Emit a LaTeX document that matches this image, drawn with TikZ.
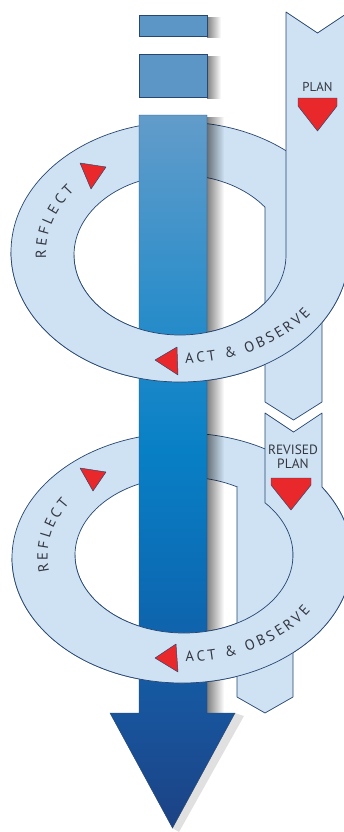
\documentclass[tikz,border=0pt]{standalone}
\usepackage{fontspec}
\setsansfont{PT Sans}
\usetikzlibrary{decorations.text, fadings}

\definecolor{bandblue}{RGB}{206,226,243}
\definecolor{rimblue}{RGB}{40,70,112}
\definecolor{shafttop}{RGB}{98,156,202}
\definecolor{shaftupper}{RGB}{45,142,202}
\definecolor{shaftmid}{RGB}{8,128,198}
\definecolor{shaftdeep}{RGB}{12,105,178}
\definecolor{shaftlow}{RGB}{24,84,156}
\definecolor{shaftend}{RGB}{28,66,132}
\definecolor{blockblue}{RGB}{92,150,198}
\definecolor{markred}{RGB}{232,40,42}
\definecolor{labelgray}{RGB}{52,54,64}

\pgfdeclareverticalshading{shaftshade}{100bp}{color(0bp)=(shaftend); color(25bp)=(shaftend);
  color(33bp)=(shaftlow); color(41bp)=(shaftdeep); color(51.5bp)=(shaftmid);
  color(62bp)=(shaftupper); color(75bp)=(shafttop); color(100bp)=(shafttop)}
\tikzfading[name=shadowfade, left color=transparent!50, right color=transparent!100]

\begin{document}
\begin{tikzpicture}[x=0.03cm, y=-0.03cm,
    band/.style={fill=bandblue},
    rim/.style={draw=rimblue, line width=0.6pt, line join=round},
    pointer/.style={fill=markred, draw=rimblue, line width=0.4pt, line join=round},
    shadow/.style={fill=black, path fading=shadowfade},
    ringtext/.style={decorate, decoration={text along path, text align=fit to path, text color=labelgray}},
    planlabel/.style={font=\sffamily\fontsize{11}{11.5}\selectfont, text=labelgray, align=center, inner sep=0pt}
]
\useasboundingbox (0,0) rectangle (344,832);
\clip (0,0) rectangle (344,832);

% upper loop, back half and the strip leaving it
\path[band, rim, even odd rule] (180,252) ellipse [x radius=169, y radius=130]
    (180,255) ellipse [x radius=106, y radius=80];
\fill[band] (265,207.2) -- (265,402) -- (293.5,420) -- (322,402) -- (322,207.2) -- cycle;
\draw[rim] (265,207.2) -- (265,402) -- (293.5,420) -- (322,402) -- (322,207.2);

% lower loop, back half
\path[band, rim, even odd rule] (182,558) ellipse [x radius=170, y radius=125]
    (184,555) ellipse [x radius=109, y radius=78];
\fill[band] (237,486.9) -- (237,697) -- (265,713) -- (293,697) -- (293,486.9) -- cycle;
\draw[rim] (237,486.9) -- (237,697) -- (265,713) -- (293,697) -- (293,486.9);

% shadows
\fill[shadow] (207,17) rectangle (221,38);
\fill[shadow] (207,56) rectangle (221,99);
\fill[shadow] (207,117) rectangle (224,715);
\fill[black, opacity=0.12] (235,713) -- (244,716) -- (179,832) -- (172.5,828) -- cycle;

% shaft and blocks
\shade[shading=shaftshade, draw=rimblue, line width=0.4pt]
    (139,115) -- (207,115) -- (207,713) -- (235,713) -- (172.5,828) -- (110,713) -- (139,713) -- cycle;
\filldraw[fill=blockblue, draw=rimblue, line width=0.5pt] (139,15) rectangle (207,36);
\filldraw[fill=blockblue, draw=rimblue, line width=0.5pt] (139,54) rectangle (207,97);

% front halves with the plan strips
\path[band, rim] (74,255) arc[start angle=180, end angle=0, x radius=106, y radius=80]
    -- (286,12) -- (317.5,33) -- (349,12) -- (349,252)
    arc[start angle=0, end angle=180, x radius=169, y radius=130];
\path[band, rim] (75,555) arc[start angle=180, end angle=-42, x radius=109, y radius=78]
    -- (265,413) -- (293.5,432) -- (322,413) -- (322,487.1)
    arc[start angle=-34.56, end angle=180, x radius=170, y radius=125];

% red pointers
\path[pointer] (298,98) -- (337,98) -- (337,106) -- (317.5,131) -- (298,106) -- cycle;
\path[pointer] (271,478) -- (311,478) -- (311,485) -- (291,510) -- (271,485) -- cycle;
\path[pointer] (80,163) -- (106,167) -- (91,189) -- cycle;
\path[pointer] (80,468) -- (106,472) -- (93,491) -- cycle;
\path[pointer] (155,360) -- (177,347) -- (178,375) -- cycle;
\path[pointer] (155,658) -- (176,644) -- (178,672) -- cycle;

% labels
\node[planlabel] (plan) at (317.5,87) {PLAN};
\node[planlabel, font=\sffamily\fontsize{11.5}{12.4}\selectfont] (revised) at (293,457) {REVISED\\PLAN};

\path[ringtext, decoration={text={|\sffamily\fontsize{12.5}{12.5}\selectfont|REFLECT}}]
    (46.2,258.8) arc[start angle=177, end angle=218, x radius=134, y radius=101.5];
\path[ringtext, decoration={text={|\sffamily\fontsize{12.5}{12.5}\selectfont|ACT {\&} OBSERVE}}]
    (185.4,363.4) arc[start angle=88, end angle=33, x radius=156, y radius=110];
\path[ringtext, decoration={text={|\sffamily\fontsize{12.5}{12.5}\selectfont|REFLECT}}]
    (49.2,571.8) arc[start angle=171, end angle=213, x radius=135.5, y radius=97.5];
\path[ringtext, decoration={text={|\sffamily\fontsize{12.5}{12.5}\selectfont|ACT {\&} OBSERVE}}]
    (185.6,661.5) arc[start angle=89, end angle=31, x radius=149, y radius=105];
\end{tikzpicture}
\end{document}
